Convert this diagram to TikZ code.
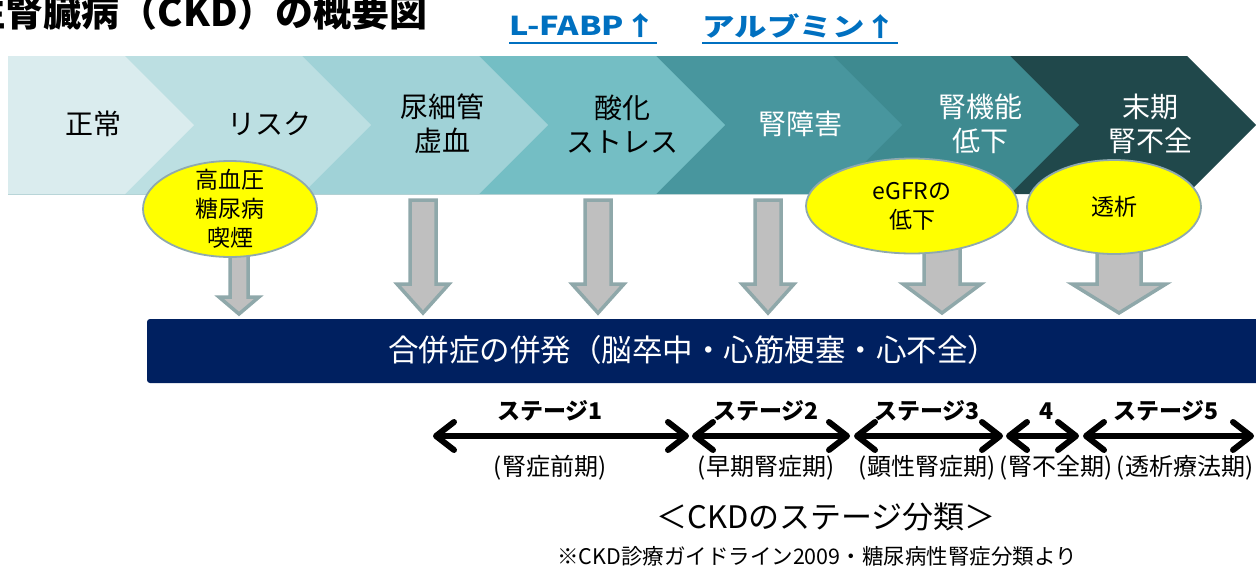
\documentclass[tikz,border=0pt]{standalone}
\usepackage{fontspec}
\setmainfont{Noto Sans CJK JP}
\newfontfamily\markerfont[FakeStretch=1.25]{Noto Sans CJK JP}
\usetikzlibrary{shapes.geometric,arrows.meta}
\definecolor{c1}{HTML}{DAECEE}
\definecolor{c2}{HTML}{BCDFE2}
\definecolor{c3}{HTML}{A0D2D7}
\definecolor{c4}{HTML}{74BEC4}
\definecolor{c5}{HTML}{48969E}
\definecolor{c6}{HTML}{3E8A90}
\definecolor{c7}{HTML}{20484B}
\definecolor{navy}{HTML}{002060}
\definecolor{linkblue}{HTML}{0070C0}
\definecolor{ellborder}{HTML}{8FA9AE}
\definecolor{arrborder}{HTML}{8FA8AA}
\definecolor{arrfill}{HTML}{BFBFBF}
\definecolor{ellyellow}{HTML}{FFFF00}
\newcommand\blockarr[6]{%
  \filldraw[blockarrow] (#1-#5/2,#2) -- (#1+#5/2,#2) -- (#1+#5/2,#3) -- (#1+#6/2,#3) -- (#1,#4) -- (#1-#6/2,#3) -- (#1-#5/2,#3) -- cycle;}
\tikzset{
  chevtext/.style={align=center, inner sep=0pt, font=\fontsize{28}{34}\selectfont},
  darktext/.style={chevtext, text=black},
  lighttext/.style={chevtext, text=white},
  ellbox/.style={ellipse, draw=ellborder, line width=1.8pt, fill=ellyellow, inner sep=0pt},
  elltext/.style={align=center, inner sep=0pt, font=\fontsize{23}{29}\selectfont},
  blockarrow/.style={fill=arrfill, draw=arrborder, line width=3.5pt, line join=miter},
  marker/.style={text=linkblue, inner sep=0pt, font=\markerfont\bfseries\fontsize{26}{30}\selectfont},
  stagearrow/.style={line width=6pt, {Straight Barb[length=18pt,width=28pt,round]}-{Straight Barb[length=18pt,width=28pt,round]}},
  stagelabel/.style={inner sep=0pt, font=\bfseries\fontsize{23}{27}\selectfont},
  periodlabel/.style={inner sep=0pt, font=\fontsize{24}{28}\selectfont},
}
\begin{document}
\begin{tikzpicture}[x=1pt,y=-1pt]
\useasboundingbox (0,0) rectangle (1256,568);
% title
\node[anchor=east, inner sep=0pt, font=\bfseries\fontsize{38}{42}\selectfont] (title) at (428,12) {慢性腎臓病（CKD）の概要図};
% markers
\node[marker] (lfabp) at (583,26) {L-FABP↑};
\node[marker] (alb) at (800,26) {アルブミン↑};
\coordinate (ul) at (0,43);
\draw[linkblue, line width=1.6pt] (lfabp.west |- ul) -- (lfabp.east |- ul);
\draw[linkblue, line width=1.6pt] (alb.west |- ul) -- (alb.east |- ul);
% chevrons
\foreach \t/\c in {1256/c7, 1079/c6, 902/c5, 725/c4, 548/c3, 371/c2, 194/c1}
  \fill[\c] (8,56) -- (\t-69,56) -- (\t,125) -- (\t-69,194) -- (8,194) -- cycle;
\node[darktext] (n1) at (93,124) {正常};
\node[darktext] (n2) at (269,124) {リスク};
\node[darktext] (n3) at (442,124) {尿細管\\虚血};
\node[darktext] (n4) at (622,124) {酸化\\ストレス};
\node[lighttext] (n5) at (800,124) {腎障害};
\node[lighttext] (n6) at (980,124) {腎機能\\低下};
\node[lighttext] (n7) at (1150,124) {末期\\腎不全};
% block arrows
\blockarr{239}{240}{297}{314}{18}{40}
\blockarr{423}{200}{284}{313}{26}{52}
\blockarr{598}{200}{284}{313}{26}{52}
\blockarr{768}{200}{284}{313}{26}{52}
\blockarr{942}{240}{284}{313}{36}{78}
\blockarr{1119}{240}{284}{313}{44}{94}
% ellipses
\node[ellbox, minimum width=174pt, minimum height=96pt] (e1) at (230,209) {};
\node[elltext] (e1t) at (e1.center) {高血圧\\糖尿病\\喫煙};
\node[ellbox, minimum width=212pt, minimum height=95pt] (e2) at (912,206) {};
\node[elltext] (e2t) at (e2.center) {eGFRの\\低下};
\node[ellbox, minimum width=174pt, minimum height=94pt] (e3) at (1114,207) {};
\node[elltext] (e3t) at (e3.center) {透析};
% complication bar
\fill[navy, rounded corners=3pt] (147,319) rectangle (1266,383);
\node[text=white, inner sep=0pt, font=\fontsize{30.5}{34}\selectfont] (comp) at (693,350) {合併症の併発（脳卒中・心筋梗塞・心不全）};
% stage arrows
\coordinate (s0) at (433,436);
\coordinate (s1a) at (689,436);
\coordinate (s1b) at (692,436);
\coordinate (s2a) at (850,436);
\coordinate (s2b) at (854,436);
\coordinate (s3a) at (1003,436);
\coordinate (s3b) at (1006,436);
\coordinate (s4a) at (1079,436);
\coordinate (s4b) at (1083,436);
\coordinate (s5) at (1254,436);
\draw[stagearrow] (s0) -- (s1a);
\draw[stagearrow] (s1b) -- (s2a);
\draw[stagearrow] (s2b) -- (s3a);
\draw[stagearrow] (s3b) -- (s4a);
\draw[stagearrow] (s4b) -- (s5);
\node[stagelabel] (l1) at (550,411) {ステージ1};
\node[stagelabel] (l2) at (766,411) {ステージ2};
\node[stagelabel] (l3) at (927,411) {ステージ3};
\node[stagelabel] (l4) at (1046,411) {4};
\node[stagelabel] (l5) at (1166,411) {ステージ5};
\node[periodlabel] (p1) at (550,468) {(腎症前期)};
\node[periodlabel] (p2) at (766,468) {(早期腎症期)};
\node[periodlabel] (p3) at (927,468) {(顕性腎症期)};
\node[periodlabel] (p4) at (1056,468) {(腎不全期)};
\node[periodlabel] (p5) at (1185,468) {(透析療法期)};
% footer
\node[inner sep=0pt, font=\fontsize{31}{35}\selectfont] (cap) at (826,517) {＜CKDのステージ分類＞};
\node[inner sep=0pt, font=\fontsize{21.5}{25}\selectfont] (src) at (817,556) {※CKD診療ガイドライン2009・糖尿病性腎症分類より};
\end{tikzpicture}
\end{document}
